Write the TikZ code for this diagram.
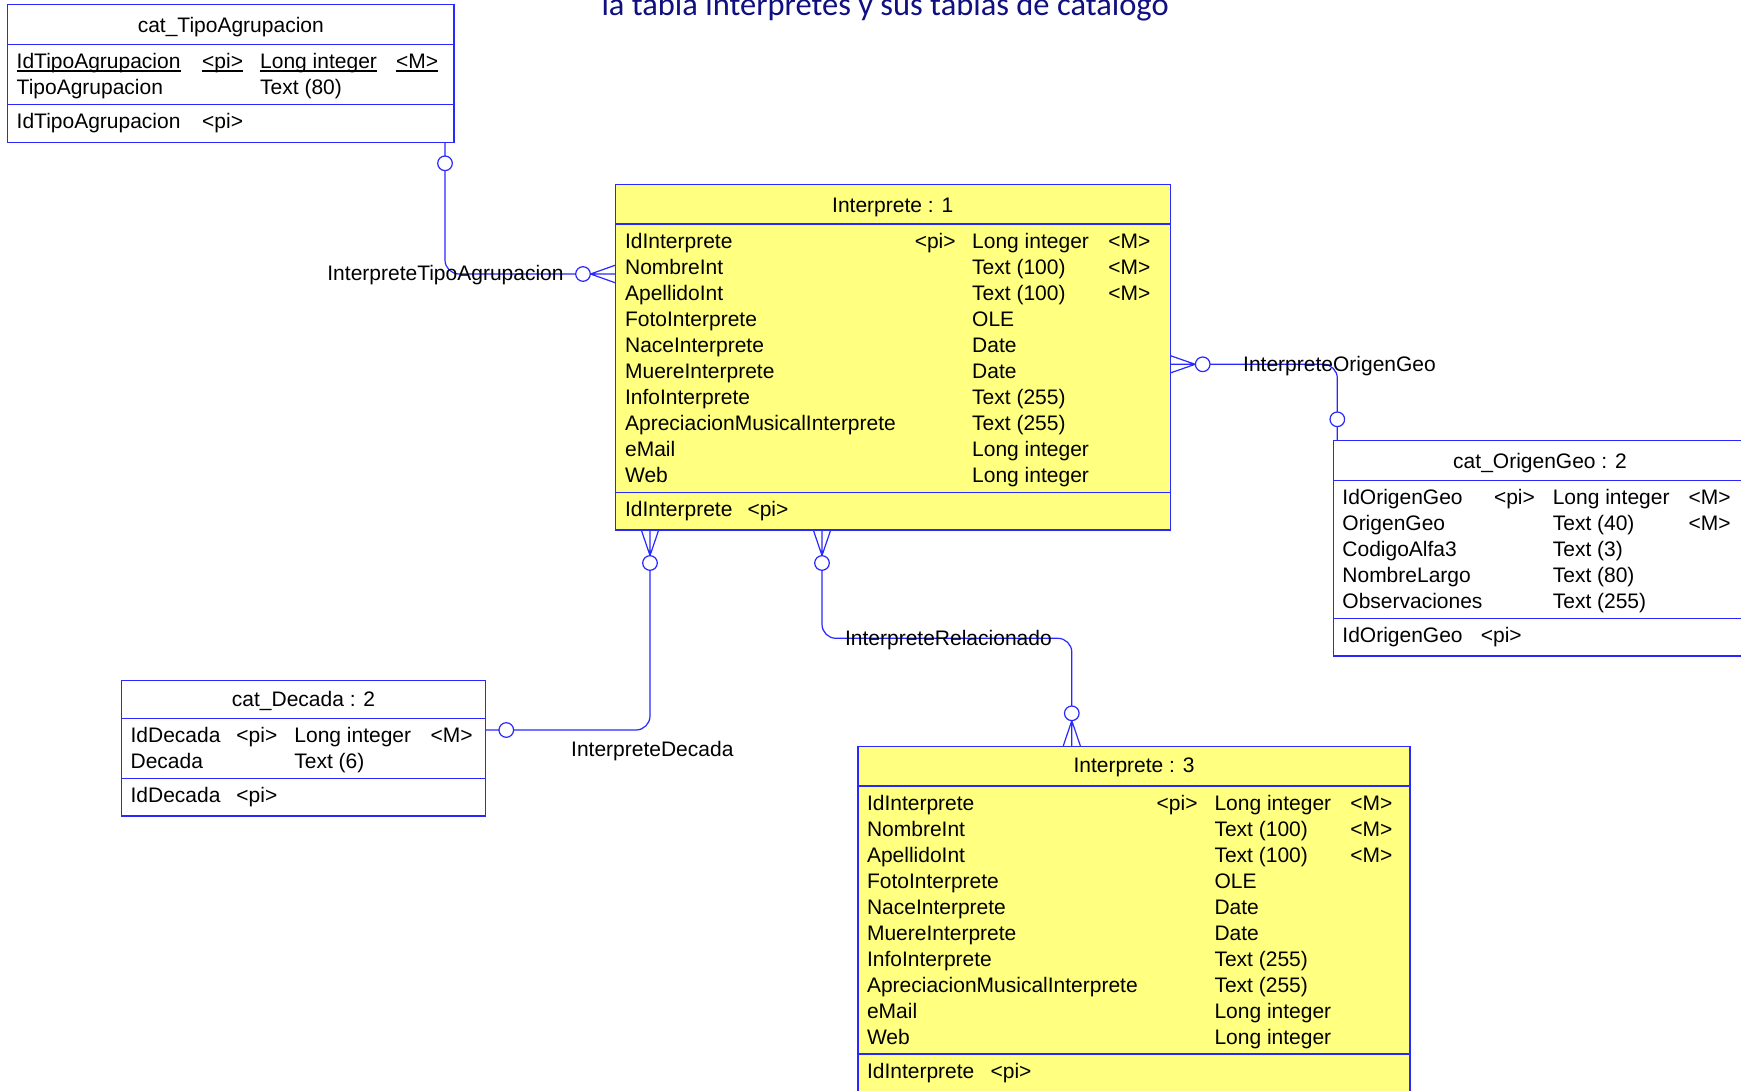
\documentclass[tikz,border=0pt]{standalone}
\usepackage{fontspec}
\setmainfont{Liberation Sans}
\newfontfamily\titlefont{Carlito}
\usetikzlibrary{calc}

\definecolor{erblue}{RGB}{40,40,255}
\definecolor{eryellow}{RGB}{255,255,128}
\definecolor{titleblue}{RGB}{16,16,128}

% crow's foot: #1 tip, #2 middle of the base on the table edge, #3 half spread
\newcommand\crowfoot[3]{%
  \draw[erline] ($(#2)+(#3)$) -- (#1) -- ($(#2)-(#3)$) (#1) -- (#2);}

% the ten attributes of an Interprete table: #1 prefix, #2 name column, #3 type column, #4 first baseline
\newcommand\interpattrs[4]{%
  \foreach \n/\t [count=\i from 0] in {IdInterprete/Long integer, NombreInt/Text (100),
      ApellidoInt/Text (100), FotoInterprete/OLE, NaceInterprete/Date, MuereInterprete/Date,
      InfoInterprete/Text (255), ApreciacionMusicalInterprete/Text (255), eMail/Long integer,
      Web/Long integer}{%
    \node[txt] (#1-n\i) at (#2,{#4+26*\i}) {\n};
    \node[txt] (#1-t\i) at (#3,{#4+26*\i}) {\t};
  }}

\begin{document}
\begin{tikzpicture}[x=1pt,y=-1pt,
  erline/.style={draw=erblue, line width=1.2pt},
  table/.style={erline, rectangle, inner sep=0pt, outer sep=0pt, anchor=north west},
  txt/.style={anchor=base west, inner sep=0pt, font=\fontsize{21}{25}\selectfont},
  head/.style={anchor=base, inner sep=0pt, font=\fontsize{21}{25}\selectfont},
  rel/.style={anchor=base west, inner sep=0pt, font=\fontsize{21}{25}\selectfont},
  zero/.style={circle, draw=erblue, line width=1.2pt, fill=white, minimum size=14.6pt, inner sep=0pt},
  keyline/.style={line width=1.2pt},
]
\fill[white] (0,0) rectangle (1741,1091);
\path[use as bounding box, clip] (0,0) rectangle (1741,1091);

% ---------- cat_TipoAgrupacion ----------
\node[table, minimum width=446.2pt, minimum height=137.6pt] (tipo) at (7.7,4.7) {};
\draw[erline] ([yshift=-39.6pt]tipo.north west) -- ([yshift=-39.6pt]tipo.north east)
              ([yshift=-99.6pt]tipo.north west) -- ([yshift=-99.6pt]tipo.north east);
\node[head] (tipo-title) at (230.8,32.5) {cat\_TipoAgrupacion};
\node[txt] (tipo-n1) at (16.5,68.5) {IdTipoAgrupacion};
\node[txt] (tipo-k1) at (202,68.5) {<pi>};
\node[txt] (tipo-t1) at (260,68.5) {Long integer};
\node[txt] (tipo-m1) at (396,68.5) {<M>};
\node[txt] (tipo-n2) at (16.5,94.5) {TipoAgrupacion};
\node[txt] (tipo-t2) at (260,94.5) {Text (80)};
\node[txt] (tipo-kn) at (16.5,128.2) {IdTipoAgrupacion};
\node[txt] (tipo-kk) at (202,128.2) {<pi>};
\foreach \u in {tipo-n1,tipo-k1,tipo-t1,tipo-m1}
  \draw[keyline] ([yshift=-2.5pt]\u.base west) -- ([yshift=-2.5pt]\u.base east);

% ---------- Interprete : 1 ----------
\node[table, fill=eryellow, minimum width=554.9pt, minimum height=345.3pt] (int1) at (615.3,184.7) {};
\draw[erline] ([yshift=-39.3pt]int1.north west) -- ([yshift=-39.3pt]int1.north east)
              ([yshift=-308pt]int1.north west) -- ([yshift=-308pt]int1.north east);
\node[head] (int1-title) at (892.7,212.5) {Interprete : 1};
\interpattrs{int1}{624.9}{972}{248.2}
\node[txt] (int1-pi) at (914.6,248.2) {<pi>};
\node[txt] (int1-m0) at (1108.2,248.2) {<M>};
\node[txt] (int1-m1) at (1108.2,274.2) {<M>};
\node[txt] (int1-m2) at (1108.2,300.2) {<M>};
\node[txt] (int1-kn) at (624.9,516.8) {IdInterprete};
\node[txt] (int1-kk) at (747.3,516.8) {<pi>};

% ---------- cat_OrigenGeo : 2 ----------
\node[table, minimum width=412.8pt, minimum height=215.3pt] (geo) at (1333.6,440.7) {};
\draw[erline] ([yshift=-39.6pt]geo.north west) -- ([yshift=-39.6pt]geo.north east)
              ([yshift=-177.6pt]geo.north west) -- ([yshift=-177.6pt]geo.north east);
\node[head] (geo-title) at (1540,468.2) {cat\_OrigenGeo : 2};
\foreach \n/\t [count=\i from 0] in {IdOrigenGeo/Long integer, OrigenGeo/Text (40),
    CodigoAlfa3/Text (3), NombreLargo/Text (80), Observaciones/Text (255)}{%
  \node[txt] (geo-n\i) at (1342.2,{504.2+26*\i}) {\n};
  \node[txt] (geo-t\i) at (1552.6,{504.2+26*\i}) {\t};
}
\node[txt] (geo-pi) at (1493.8,504.2) {<pi>};
\node[txt] (geo-m0) at (1688.3,504.2) {<M>};
\node[txt] (geo-m1) at (1688.3,530.2) {<M>};
\node[txt] (geo-kn) at (1342.2,642.3) {IdOrigenGeo};
\node[txt] (geo-kk) at (1480.6,642.3) {<pi>};

% ---------- cat_Decada : 2 ----------
\node[table, minimum width=364.3pt, minimum height=135.3pt] (dec) at (121.4,680.7) {};
\draw[erline] ([yshift=-37.8pt]dec.north west) -- ([yshift=-37.8pt]dec.north east)
              ([yshift=-97.6pt]dec.north west) -- ([yshift=-97.6pt]dec.north east);
\node[head] (dec-title) at (303.5,706.5) {cat\_Decada : 2};
\node[txt] (dec-n1) at (130.4,742.5) {IdDecada};
\node[txt] (dec-k1) at (236.2,742.5) {<pi>};
\node[txt] (dec-t1) at (294.2,742.5) {Long integer};
\node[txt] (dec-m1) at (430.4,742.5) {<M>};
\node[txt] (dec-n2) at (130.4,768.2) {Decada};
\node[txt] (dec-t2) at (294.2,768.2) {Text (6)};
\node[txt] (dec-kn) at (130.4,802.5) {IdDecada};
\node[txt] (dec-kk) at (236.2,802.5) {<pi>};

% ---------- Interprete : 3 ----------
\node[table, fill=eryellow, minimum width=552pt, minimum height=345.3pt] (int3) at (858,746.3) {};
\draw[erline] ([yshift=-39.7pt]int3.north west) -- ([yshift=-39.7pt]int3.north east)
              ([yshift=-307.7pt]int3.north west) -- ([yshift=-307.7pt]int3.north east);
\node[head] (int3-title) at (1134,772.5) {Interprete : 3};
\interpattrs{int3}{866.8}{1214.3}{810.2}
\node[txt] (int3-pi) at (1156.5,810.2) {<pi>};
\node[txt] (int3-m0) at (1350.1,810.2) {<M>};
\node[txt] (int3-m1) at (1350.1,836.2) {<M>};
\node[txt] (int3-m2) at (1350.1,862.2) {<M>};
\node[txt] (int3-kn) at (866.8,1078.2) {IdInterprete};
\node[txt] (int3-kk) at (990.4,1078.2) {<pi>};

% ---------- relationship ends ----------
\coordinate (tipo-port) at (445,142.3);
\coordinate (f1) at (590.5,274);
\coordinate (b1) at (f1 -| int1.west);

\coordinate (b2) at (1170.2,364.3);
\coordinate (f2) at (1195.2,364.3);
\coordinate (geo-port) at (1337.3,440.7);

\coordinate (b3) at (650,530);
\coordinate (f3) at (650,555.5);
\coordinate (dec-port) at (485.7,730);

\coordinate (b4) at (822,530);
\coordinate (f4) at (822,555.5);
\coordinate (m4) at (945,638.3);
\coordinate (f5) at (1071.8,720.7);
\coordinate (b5) at (1071.8,746.3);

% connector lines
\draw[erline, rounded corners=14pt] (tipo-port) |- (f1);
\crowfoot{f1}{b1}{0,8.8}
\draw[erline, rounded corners=14pt] (f2) -| (geo-port);
\crowfoot{f2}{b2}{0,8.7}
\draw[erline, rounded corners=14pt] (f3) |- (dec-port);
\crowfoot{f3}{b3}{8.7,0}
\draw[erline, rounded corners=14pt] (f4) |- (m4) -| (f5);
\crowfoot{f4}{b4}{8.7,0}
\crowfoot{f5}{b5}{8.7,0}

% optional-end circles
\node[zero] (z1) at (445,163.3) {};
\node[zero] (z2) at (583,274) {};
\node[zero] (z3) at (1202.7,364.3) {};
\node[zero] (z4) at (1337.3,419.3) {};
\node[zero] (z5) at (650,563) {};
\node[zero] (z6) at (506.3,730) {};
\node[zero] (z7) at (822,563) {};
\node[zero] (z8) at (1071.8,713.3) {};

% relationship names
\node[rel] (l1) at (327.2,280.2) {InterpreteTipoAgrupacion};
\node[rel] (l2) at (1243,371.8) {InterpreteOrigenGeo};
\node[rel] (l3) at (844.9,645.8) {InterpreteRelacionado};
\node[rel] (l4) at (571,756.8) {InterpreteDecada};

% heading
\node[anchor=base west, inner sep=0pt, text=titleblue,
      font=\titlefont\fontsize{32.5}{36}\selectfont] (title) at (601.3,15.5)
      {la tabla interpretes y sus tablas de catalogo};
\end{tikzpicture}
\end{document}
